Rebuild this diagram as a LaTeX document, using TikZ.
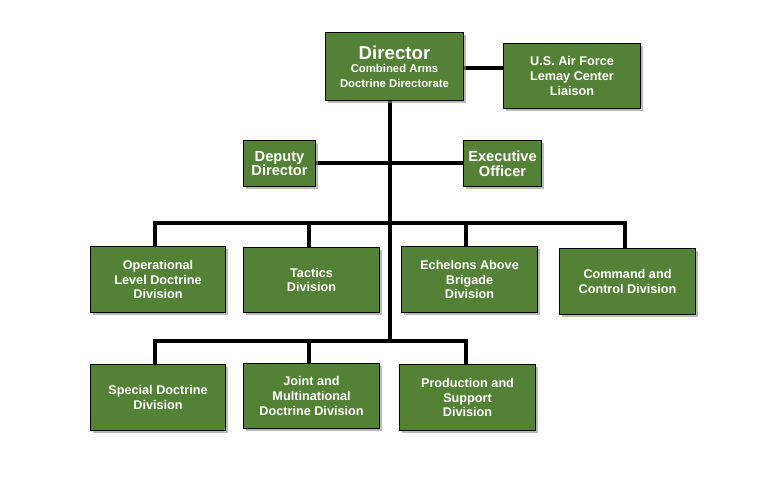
\documentclass[tikz,border=0pt]{standalone}
\usepackage{fontspec}
\setmainfont{Liberation Sans}
\usetikzlibrary{shadows}
\definecolor{gr}{HTML}{538135}
\begin{document}
\begin{tikzpicture}[x=0.75pt,y=-0.75pt,
 box/.style={draw=black,line width=0.8pt,fill=gr,text=white,font=\bfseries\fontsize{9.5}{11}\selectfont,align=center,inner sep=0pt,
   drop shadow={shadow xshift=2pt,shadow yshift=-2pt,fill=black!45,opacity=0.6}},
 ln/.style={line width=3pt}]
\useasboundingbox (0,0) rectangle (778,492);
\fill[white] (0,0) rectangle (778,492);
\newcommand\bx[6]{\node[box,minimum width=#4*0.75pt,minimum height=#5*0.75pt,anchor=north west] (#1) at (#2,#3) {#6};}
\draw[ln] (390,100) -- (390,341);
\draw[ln] (463,68) -- (503,68);
\draw[ln] (315,163) -- (463,163);
\draw[ln] (155,247) -- (155,223) -- (625,223) -- (625,248);
\draw[ln] (309,223) -- (309,247);
\draw[ln] (466,223) -- (466,246);
\draw[ln] (155,364) -- (155,341) -- (466,341) -- (466,364);
\draw[ln] (309,341) -- (309,363);
\bx{dir}{325}{32}{138}{68}{{\fontsize{14}{16}\selectfont Director}\\[-1pt]{\fontsize{8.5}{10}\selectfont Combined Arms}\\{\fontsize{8.5}{10}\selectfont Doctrine Directorate}}
\bx{lia}{503}{43}{137}{65}{U.S. Air Force\\Lemay Center\\Liaison}
\bx{dep}{243}{140}{72}{46}{{\fontsize{11}{13}\selectfont Deputy}\\{\fontsize{11}{13}\selectfont Director}}
\bx{exe}{463}{140}{78}{46}{{\fontsize{11}{13}\selectfont Executive}\\{\fontsize{11}{13}\selectfont Officer}}
\bx{op}{90}{246}{135}{66}{Operational\\Level Doctrine\\Division}
\bx{tac}{243}{247}{136}{65}{Tactics\\Division}
\bx{ech}{401}{246}{136}{66}{Echelons Above\\Brigade\\Division}
\bx{cc}{559}{248}{136}{66}{Command and\\Control Division}
\bx{sp}{90}{364}{135}{66}{Special Doctrine\\Division}
\bx{jm}{243}{363}{136}{65}{Joint and\\Multinational\\Doctrine Division}
\bx{pr}{399}{364}{136}{66}{Production and\\Support\\Division}
\end{tikzpicture}
\end{document}
